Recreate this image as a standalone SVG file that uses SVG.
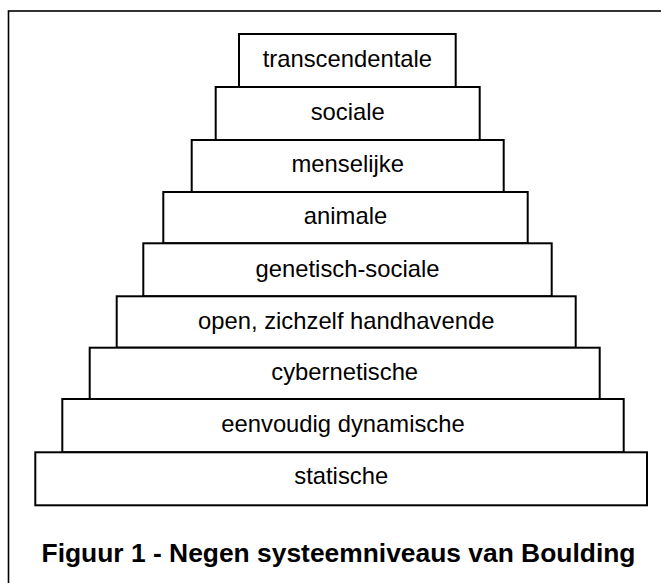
<svg xmlns="http://www.w3.org/2000/svg" width="661" height="583" viewBox="0 0 661 583">
<style>
.frame{fill:none;stroke:#000;stroke-width:1.6}
.box{fill:#fff;stroke:#000;stroke-width:2}
.lbl{font-family:"Liberation Sans",Arial,sans-serif;font-size:23.8px;fill:#000;text-anchor:middle}
.cap{font-family:"Liberation Sans",Arial,sans-serif;font-size:26.4px;font-weight:bold;fill:#000;text-anchor:middle}
</style>
<rect width="661" height="583" fill="#fff"/>
<rect class="frame" x="8.5" y="11" width="700" height="620"/>
<g id="connectors"></g>
<g id="n1"><rect class="box" x="239" y="34" width="216.7" height="53"/><text class="lbl" x="347.4" y="67">transcendentale</text></g>
<g id="n2"><rect class="box" x="215.7" y="87" width="264" height="53"/><text class="lbl" x="347.7" y="120">sociale</text></g>
<g id="n3"><rect class="box" x="191.7" y="140" width="312" height="52"/><text class="lbl" x="347.7" y="172">menselijke</text></g>
<g id="n4"><rect class="box" x="163.3" y="192" width="364.4" height="51.3"/><text class="lbl" x="345.5" y="224">animale</text></g>
<g id="n5"><rect class="box" x="143.3" y="243.3" width="408.4" height="53"/><text class="lbl" x="347.5" y="277">genetisch-sociale</text></g>
<g id="n6"><rect class="box" x="116.7" y="296.3" width="459" height="51.4"/><text class="lbl" x="346.2" y="328.5">open, zichzelf handhavende</text></g>
<g id="n7"><rect class="box" x="89.7" y="347.7" width="510" height="51.3"/><text class="lbl" x="344.7" y="380">cybernetische</text></g>
<g id="n8"><rect class="box" x="62.3" y="399" width="561.4" height="53.3"/><text class="lbl" x="343" y="431.7">eenvoudig dynamische</text></g>
<g id="n9"><rect class="box" x="35.3" y="452.3" width="611.7" height="53"/><text class="lbl" x="341.2" y="484">statische</text></g>
<text class="cap" x="338.5" y="562">Figuur 1 - Negen systeemniveaus van Boulding</text>
</svg>
